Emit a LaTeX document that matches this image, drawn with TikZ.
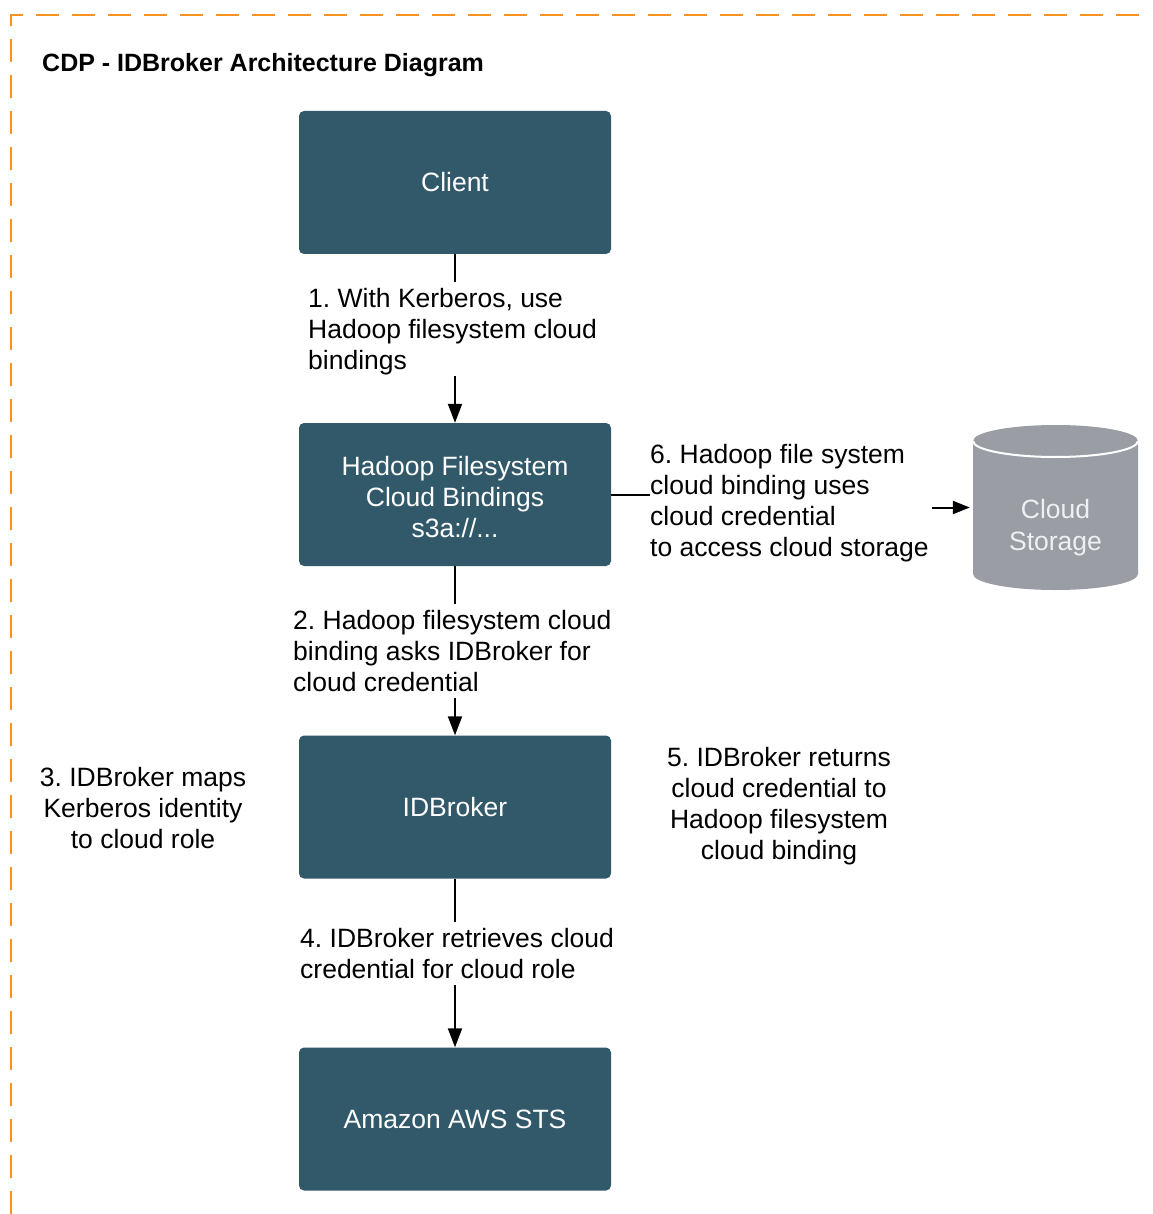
\documentclass[tikz,border=0pt]{standalone}
\usepackage{fontspec}
\setmainfont{Liberation Sans}
\usetikzlibrary{arrows.meta}
\frenchspacing
\definecolor{boxcol}{RGB}{49,89,106}
\definecolor{cylcol}{RGB}{154,158,164}
\definecolor{framecol}{RGB}{247,147,30}
\definecolor{cyltext}{RGB}{238,240,242}
\tikzset{
  stepbox/.style={rectangle, rounded corners=5pt, fill=boxcol, text=white,
    minimum width=312pt, minimum height=143pt, align=center, inner sep=0pt,
    font=\fontsize{26.5}{31}\selectfont},
  lbl/.style={inner sep=0pt, font=\fontsize{26.5}{31}\selectfont, text=black},
  conn/.style={draw=black, line width=2pt},
  arr/.style={conn, -{Triangle[length=19pt,width=14pt]}},
}
\begin{document}
\begin{tikzpicture}[x=1pt,y=-1pt]
\useasboundingbox (0,0) rectangle (1152,1214);
% frame
\draw[framecol, line width=2pt, dash pattern=on 23pt off 13pt] (11,1214) -- (11,15) -- (1152,15);
\node[anchor=west, inner sep=0pt, font=\fontsize{25}{30}\selectfont\bfseries] (title) at (42,65) {CDP - IDBroker Architecture Diagram};
% boxes
\node[stepbox] (client) at (455,182.5) {Client};
\node[stepbox] (hfs) at (455,494.5) {\raisebox{-12.4pt}[0pt][0pt]{\begin{tabular}{@{}c@{}}Hadoop Filesystem\\Cloud Bindings\\s3a://...\end{tabular}}};
\node[stepbox] (idb) at (455,807) {IDBroker};
\node[stepbox] (sts) at (455,1119) {Amazon AWS STS};
% cylinder
\fill[cylcol] (973,441) -- (973,574) arc[start angle=180,end angle=0,x radius=82.5,y radius=16]
  -- (1138,441) arc[start angle=0,end angle=-180,x radius=82.5,y radius=16] -- cycle;
\draw[white, line width=2pt] (973,441) arc[start angle=180,end angle=0,x radius=82.5,y radius=16];
\node[inner sep=0pt, minimum width=165pt, align=center, text=cyltext,
  font=\fontsize{26.5}{31}\selectfont] (cloud) at (1055.5,528) {Cloud\\[1pt]Storage};
% labels
\node[lbl, anchor=west, align=left] (l1) at (308,331.5) {1. With Kerberos, use\\Hadoop filesystem cloud\\bindings};
\node[lbl, anchor=west, align=left] (l2) at (293,651) {2. Hadoop filesystem cloud\\binding asks IDBroker for\\cloud credential};
\node[lbl, align=center] (l3) at (143,808) {3. IDBroker maps\\Kerberos identity\\to cloud role};
\node[lbl, anchor=west, align=left] (l4) at (300,954) {4. IDBroker retrieves cloud\\credential for cloud role};
\node[lbl, align=center] (l5) at (779,806) {5. IDBroker returns\\cloud credential to\\Hadoop filesystem\\cloud binding};
\node[lbl, anchor=west, align=left] (l6) at (650,503) {6. Hadoop file system\\cloud binding uses\\cloud credential\\to access cloud storage};
% connector free ends
\coordinate (c1a) at (455,282);
\coordinate (c1b) at (455,376);
\coordinate (c2a) at (455,604);
\coordinate (c2b) at (455,698);
\coordinate (c4a) at (455,922);
\coordinate (c4b) at (455,985);
\coordinate (c6a) at (650,494.5);
\coordinate (c6b) at (932,507.5);
% connectors
\draw[conn] (client.south) -- (c1a);
\draw[arr] (c1b) -- (hfs.north);
\draw[conn] (hfs.south) -- (c2a);
\draw[arr] (c2b) -- (idb.north);
\draw[conn] (idb.south) -- (c4a);
\draw[arr] (c4b) -- (sts.north);
\draw[conn] (hfs.east) -- (c6a);
\draw[conn, -{Triangle[length=17pt,width=13pt]}, shorten >=3pt] (c6b) -- (c6b -| cloud.west);
\end{tikzpicture}
\end{document}
